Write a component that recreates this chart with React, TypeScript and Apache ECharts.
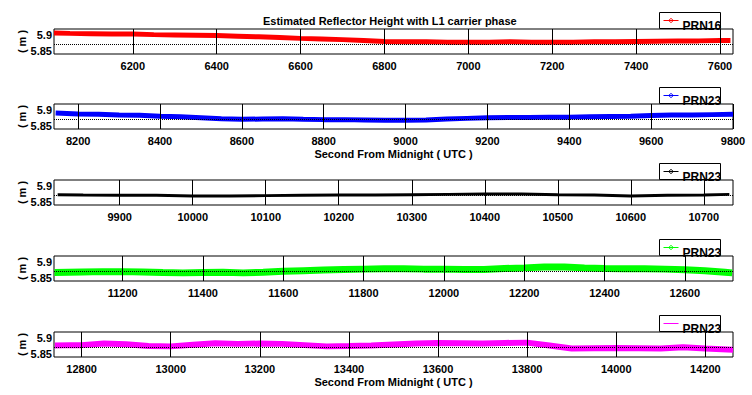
import React, { useEffect, useRef } from "react";
import * as echarts from "echarts";

const chartTitle = "Estimated Reflector Height with L1 carrier phase";
const xAxisName = "Second From Midnight ( UTC )";
const yAxisName = "( m )";
const yTickLabels = [5.85, 5.9];
const yLimits = [5.84, 5.92];
const refLevel = 5.872;

const seriesNames = ["PRN16", "PRN23", "PRN23", "PRN23", "PRN23"];
const seriesColors = ["#ff0000", "#0000ff", "#000000", "#00ff00", "#ff00ff"];

const xLimits1 = [6012, 7631];
const xTicks1 = [6200, 6400, 6600, 6800, 7000, 7200, 7400, 7600];
const time1 = [6012, 6050, 6100, 6150, 6200, 6250, 6300, 6350, 6400, 6450, 6500, 6550, 6600, 6650, 6700, 6750, 6800, 6850, 6900, 6950, 7000, 7050, 7100, 7150, 7200, 7250, 7300, 7350, 7400, 7450, 7500, 7550, 7600, 7625];
const height1 = [5.907, 5.906, 5.905, 5.904, 5.904, 5.902, 5.901, 5.9, 5.899, 5.897, 5.895, 5.893, 5.89, 5.888, 5.886, 5.883, 5.88, 5.879, 5.879, 5.878, 5.878, 5.878, 5.879, 5.878, 5.878, 5.878, 5.879, 5.879, 5.88, 5.881, 5.882, 5.882, 5.883, 5.883];

const xLimits2 = [8141, 9800];
const xTicks2 = [8200, 8400, 8600, 8800, 9000, 9200, 9400, 9600, 9800];
const time2 = [8145, 8200, 8250, 8300, 8350, 8400, 8450, 8500, 8550, 8600, 8650, 8700, 8750, 8800, 8850, 8900, 8950, 9000, 9050, 9100, 9150, 9200, 9250, 9300, 9350, 9400, 9450, 9500, 9550, 9600, 9650, 9700, 9750, 9800];
const height2 = [5.891, 5.888, 5.887, 5.885, 5.884, 5.881, 5.879, 5.876, 5.873, 5.871, 5.872, 5.873, 5.871, 5.87, 5.87, 5.869, 5.868, 5.868, 5.869, 5.872, 5.874, 5.876, 5.877, 5.877, 5.878, 5.878, 5.879, 5.88, 5.881, 5.883, 5.885, 5.885, 5.886, 5.887];

const xLimits3 = [9810, 10740];
const xTicks3 = [9900, 10000, 10100, 10200, 10300, 10400, 10500, 10600, 10700];
const time3 = [9815, 9850, 9900, 9950, 10000, 10050, 10100, 10150, 10200, 10250, 10300, 10350, 10400, 10450, 10500, 10550, 10600, 10650, 10700, 10735];
const height3 = [5.873, 5.872, 5.871, 5.871, 5.869, 5.869, 5.87, 5.871, 5.872, 5.872, 5.873, 5.874, 5.875, 5.875, 5.873, 5.872, 5.869, 5.871, 5.872, 5.874];

const xLimits4 = [11029, 12720];
const xTicks4 = [11200, 11400, 11600, 11800, 12000, 12200, 12400, 12600];
const time4 = [11030, 11100, 11150, 11200, 11250, 11300, 11350, 11400, 11450, 11500, 11550, 11600, 11650, 11700, 11750, 11800, 11850, 11900, 11950, 12000, 12050, 12100, 12150, 12200, 12250, 12300, 12350, 12400, 12450, 12500, 12550, 12600, 12650, 12700, 12718];
const height4 = [5.867, 5.869, 5.87, 5.87, 5.869, 5.867, 5.866, 5.867, 5.868, 5.866, 5.868, 5.871, 5.873, 5.875, 5.877, 5.878, 5.879, 5.879, 5.878, 5.878, 5.877, 5.877, 5.88, 5.882, 5.885, 5.885, 5.882, 5.88, 5.879, 5.879, 5.878, 5.876, 5.873, 5.868, 5.866];

const xLimits5 = [12738, 14262];
const xTicks5 = [12800, 13000, 13200, 13400, 13600, 13800, 14000, 14200];
const time5 = [12740, 12775, 12800, 12850, 12900, 12950, 13000, 13050, 13100, 13150, 13200, 13250, 13300, 13350, 13400, 13450, 13500, 13550, 13600, 13650, 13700, 13750, 13800, 13850, 13900, 13950, 14000, 14050, 14100, 14150, 14200, 14262];
const height5 = [5.877, 5.878, 5.878, 5.883, 5.881, 5.875, 5.874, 5.879, 5.884, 5.882, 5.883, 5.882, 5.878, 5.874, 5.875, 5.877, 5.88, 5.883, 5.885, 5.884, 5.883, 5.885, 5.886, 5.877, 5.867, 5.868, 5.869, 5.868, 5.867, 5.871, 5.867, 5.863];

const panels = [
  { lim: xLimits1, ticks: xTicks1, t: time1, v: height1 },
  { lim: xLimits2, ticks: xTicks2, t: time2, v: height2 },
  { lim: xLimits3, ticks: xTicks3, t: time3, v: height3 },
  { lim: xLimits4, ticks: xTicks4, t: time4, v: height4 },
  { lim: xLimits5, ticks: xTicks5, t: time5, v: height5 },
];

const FONT = "Liberation Sans";
const gridTops = [29, 104, 180, 256, 332];
const gridH = 25;
const lineWidths = [5, 5, 3, 7, 6];
const showXName = [false, true, false, false, true];

export default function App() {
  const ref = useRef<HTMLDivElement>(null);
  useEffect(() => {
    if (!ref.current) return;
    const chart = echarts.init(ref.current, null, { renderer: "svg" });
    const grid = gridTops.map((top) => ({
      left: 54,
      right: 19,
      top,
      height: gridH,
      show: true,
      borderColor: "#000",
      borderWidth: 1,
      backgroundColor: "#fff",
    }));
    const xAxis = panels.map((p, i) => ({
      type: "value",
      gridIndex: i,
      min: p.lim[0],
      max: p.lim[1],
      axisLine: { show: false },
      axisTick: { show: false },
      splitLine: { show: false },
      axisLabel: {
        customValues: p.ticks,
        margin: 6,
        color: "#000",
        fontFamily: FONT,
        fontWeight: "bold",
        fontSize: 11,
        formatter: (v: number) => String(Math.round(v)),
      },
      name: showXName[i] ? xAxisName : "",
      nameLocation: "middle",
      nameGap: 19,
      nameMoveOverlap: false,
      nameTextStyle: { color: "#000", fontFamily: FONT, fontWeight: "bold", fontSize: 11 },
    }));
    const yAxis = panels.map((_, i) => ({
      type: "value",
      gridIndex: i,
      min: yLimits[0],
      max: yLimits[1],
      axisLine: { show: false },
      axisTick: { show: false },
      splitLine: { show: false },
      axisLabel: {
        customValues: yTickLabels,
        margin: 2,
        color: "#000",
        fontFamily: FONT,
        fontWeight: "bold",
        fontSize: 11,
        formatter: (v: number) => String(Math.round(v * 100) / 100),
      },
      name: yAxisName,
      nameLocation: "middle",
      nameRotate: 90,
      nameGap: 27,
      nameMoveOverlap: false,
      nameTextStyle: { color: "#000", fontFamily: FONT, fontWeight: "bold", fontSize: 11 },
    }));
    const series: any[] = [];
    panels.forEach((p, i) => {
      series.push({
        type: "line",
        xAxisIndex: i,
        yAxisIndex: i,
        data: [],
        silent: true,
        z: 1,
        markLine: {
          symbol: "none",
          silent: true,
          animation: false,
          label: { show: false },
          lineStyle: { color: "#000", width: 1, type: "solid" },
          data: [
            ...p.ticks.map((v) => ({ xAxis: v })),
            { yAxis: refLevel, lineStyle: { type: "dotted", color: "#000", width: 1 } },
          ],
        },
      });
      series.push({
        type: "line",
        name: seriesNames[i],
        xAxisIndex: i,
        yAxisIndex: i,
        data: p.t.map((x, j) => [x, p.v[j]]),
        showSymbol: false,
        symbol: "none",
        clip: true,
        z: 3,
        lineStyle: { color: seriesColors[i], width: lineWidths[i] },
        itemStyle: { color: seriesColors[i] },
      });
    });
    const graphic: any[] = gridTops.map((top, i) => ({
      type: "group",
      left: 659,
      top: top - 17,
      z: 100,
      children: [
        {
          type: "rect",
          shape: { x: 0, y: 0, width: 61, height: 16 },
          style: { fill: "#fff", stroke: "#000", lineWidth: 1 },
        },
        {
          type: "line",
          shape: { x1: 4, y1: 8, x2: 19, y2: 8 },
          style: { stroke: seriesColors[i], lineWidth: 1 },
        },
        ...(i < 4
          ? [
              {
                type: "circle",
                shape: { cx: 11.5, cy: 8, r: 1.8 },
                style: { fill: "none", stroke: seriesColors[i], lineWidth: 1 },
              },
            ]
          : []),
        {
          type: "text",
          x: 23,
          y: 13.5,
          style: {
            text: seriesNames[i],
            font: `bold 12px "${FONT}"`,
            fill: "#000",
            verticalAlign: "middle",
          },
        },
      ],
    }));
    chart.setOption({
      animation: false,
      backgroundColor: "#fff",
      title: {
        text: chartTitle,
        left: 263,
        top: 15,
        padding: 0,
        textStyle: { color: "#000", fontFamily: FONT, fontWeight: "bold", fontSize: 11 },
      },
      grid,
      xAxis,
      yAxis,
      series,
      graphic,
    });
    return () => chart.dispose();
  }, []);
  return (
    <div
      ref={ref}
      style={{ position: "absolute", left: 0, top: 0, width: 752, height: 395, background: "#fff" }}
    />
  );
}
